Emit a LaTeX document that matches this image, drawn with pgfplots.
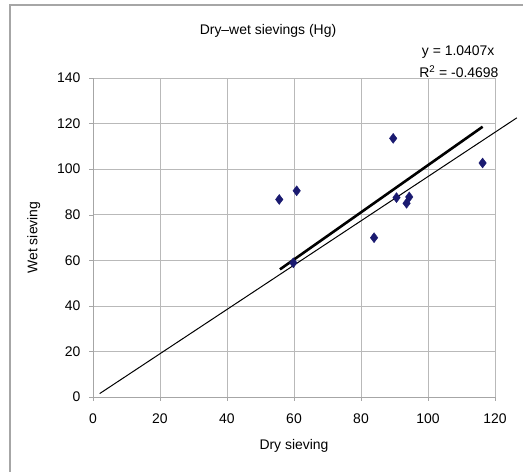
\documentclass[border=0pt]{standalone}
\usepackage{pgfplots}
\pgfplotsset{compat=1.18}
\usepackage{fontspec}
\setmainfont{Liberation Sans}
\definecolor{navy}{HTML}{1A1A70}
\begin{document}
\begin{tikzpicture}
\path[use as bounding box] (0,0) rectangle (523bp,472bp);
\draw[gray!70, line width=1.2bp] (10bp,0) -- (10bp,467bp) -- (523bp,467bp);
\begin{axis}[
  at={(93bp,75bp)}, anchor=south west,
  scale only axis, width=402bp, height=319bp,
  xmin=0, xmax=120, ymin=0, ymax=140,
  xtick={0,20,...,120}, ytick={0,20,...,140},
  grid=major, grid style={gray!55, line width=0.6bp},
  axis line style={gray!70, line width=0.7bp},
  tick align=outside, major tick length=4bp,
  tick style={gray!70},
  axis x line*=bottom, axis y line*=left,
  /pgf/number format/assume math mode=true,
  tick label style={font=\fontsize{14}{16}\selectfont},
  xticklabel style={yshift=-9bp},
  yticklabel style={xshift=-5bp},
  xlabel={Dry sieving}, ylabel={Wet sieving},
  label style={font=\fontsize{14}{16}\selectfont},
  xlabel style={yshift=-9bp},
  ylabel style={yshift=10bp},
  clip=false,
]
% y = x reference line
\addplot[black, line width=1bp] coordinates {(2,1.5) (126.5,122.5)};
% trendline y = 1.0407x
\addplot[black, line width=2.6bp] coordinates {(55.8,56.0) (116.3,118.6)};
% data
\addplot[only marks, mark=diamond*, mark size=5bp, mark options={fill=navy, draw=navy}] coordinates {
(55.6,86.7) (60.8,90.5) (89.6,113.5) (116.3,102.7) (90.6,87.5)
(94.4,87.8) (93.6,85.0) (83.9,69.9) (59.8,58.9)
};
\end{axis}
\node[font=\fontsize{14}{16}\selectfont] at (268bp,441bp) {Dry–wet sievings (Hg)};
\node[font=\fontsize{14}{16}\selectfont, anchor=east] at (498bp,420bp) {y = 1.0407x};
\node[font=\fontsize{14}{16}\selectfont, anchor=east] at (502bp,400bp) {R\textsuperscript{2} = -0.4698};
\end{tikzpicture}
\end{document}
